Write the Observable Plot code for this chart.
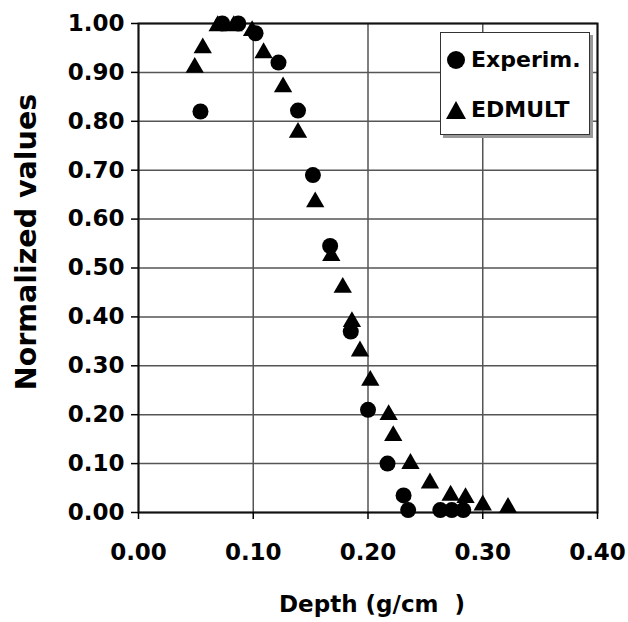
<!DOCTYPE html>
<html>
<head>
<meta charset="utf-8">
<script src="https://cdn.jsdelivr.net/npm/d3@7"></script>
<script src="https://cdn.jsdelivr.net/npm/@observablehq/plot@0.6"></script>
<style>
  html, body { margin: 0; padding: 0; background: #fff; }
  #wrap { position: relative; width: 628px; height: 622px; }
  #legend {
    position: absolute; left: 440px; top: 32px; width: 148px; height: 101px;
    border: 1px solid #333; background: #fff; box-shadow: 3px 3px 0 #999;
    font-family: "DejaVu Sans", sans-serif; font-weight: bold; font-size: 22px; color: #000;
  }
  .row { position: absolute; left: 4px; display: flex; align-items: center; }
  .row svg { margin-right: 4px; }
</style>
</head>
<body>
<div id="wrap"></div>
<script>
// Experimental data (circles)
const expX = [0.054, 0.073, 0.087, 0.102, 0.122, 0.139, 0.152, 0.167, 0.185, 0.200, 0.217, 0.231, 0.235, 0.263, 0.273, 0.283];
const expY = [0.82, 1.00, 1.00, 0.98, 0.92, 0.822, 0.69, 0.545, 0.37, 0.21, 0.10, 0.035, 0.005, 0.005, 0.005, 0.005];
// EDMULT simulation (triangles)
const edmX = [0.049, 0.056, 0.069, 0.083, 0.099, 0.109, 0.126, 0.139, 0.154, 0.168, 0.178, 0.186, 0.193, 0.202, 0.218, 0.222, 0.237, 0.254, 0.272, 0.285, 0.300, 0.322];
const edmY = [0.91, 0.95, 0.995, 0.995, 0.985, 0.94, 0.87, 0.777, 0.635, 0.525, 0.46, 0.39, 0.33, 0.27, 0.20, 0.157, 0.10, 0.06, 0.035, 0.03, 0.015, 0.01];
const seriesNames = ["Experim.", "EDMULT"];
const xTicks = [0.00, 0.10, 0.20, 0.30, 0.40];
const yTicks = [0.00, 0.10, 0.20, 0.30, 0.40, 0.50, 0.60, 0.70, 0.80, 0.90, 1.00];
const xTitle = "Depth (g/cm  )";
const yTitle = "Normalized values";

const expData = expX.map((x, i) => ({x, y: expY[i]}));
const edmData = edmX.map((x, i) => ({x, y: edmY[i]}));
const fmt = d => d.toFixed(2);

const chart = Plot.plot({
  width: 628,
  height: 622,
  marginLeft: 138,
  marginRight: 31,
  marginTop: 23,
  marginBottom: 110,
  style: {fontFamily: "DejaVu Sans", fontSize: "23px", fontWeight: "bold", color: "#000", background: "#fff"},
  x: {domain: [0, 0.4]},
  y: {domain: [0, 1]},
  marks: [
    Plot.gridX(xTicks, {stroke: "#555", strokeOpacity: 1, strokeWidth: 1.5}),
    Plot.gridY(yTicks, {stroke: "#555", strokeOpacity: 1, strokeWidth: 1.5}),
    Plot.frame({stroke: "#111", strokeWidth: 2}),
    Plot.axisX({ticks: xTicks, tickFormat: fmt, tickSize: 7, tickPadding: 24, label: null, strokeWidth: 1.5}),
    Plot.axisY({ticks: yTicks, tickFormat: fmt, tickSize: 7, tickPadding: 7, label: null, strokeWidth: 1.5}),
    Plot.dot(edmData, {x: "x", y: "y", symbol: "triangle", r: 6.8, fill: "#000", stroke: "none"}),
    Plot.dot(expData, {x: "x", y: "y", symbol: "circle", r: 8, fill: "#000", stroke: "none"}),
    Plot.text([yTitle], {frameAnchor: "left", textAnchor: "middle", lineAnchor: "middle", rotate: -90, dx: -112, dy: -26, fontSize: 28.5, fontWeight: "bold", fill: "#000"}),
    Plot.text([xTitle], {frameAnchor: "bottom", textAnchor: "middle", lineAnchor: "middle", dx: 4, dy: 92, fontSize: 23, fontWeight: "bold", fill: "#000"})
  ]
});

const wrap = document.getElementById("wrap");
wrap.appendChild(chart);

// Legend inside the plot area
const legend = document.createElement("div");
legend.id = "legend";
const sym = [
  '<svg width="22" height="22"><circle cx="11" cy="11" r="9" fill="#000"/></svg>',
  '<svg width="22" height="22"><path d="M11,2 L21,20 L1,20 Z" fill="#000"/></svg>'
];
const tops = [14, 64];
seriesNames.forEach((name, i) => {
  const row = document.createElement("div");
  row.className = "row";
  row.style.top = tops[i] + "px";
  row.innerHTML = sym[i] + "<span>" + name + "</span>";
  legend.appendChild(row);
});
wrap.appendChild(legend);
</script>
</body>
</html>
